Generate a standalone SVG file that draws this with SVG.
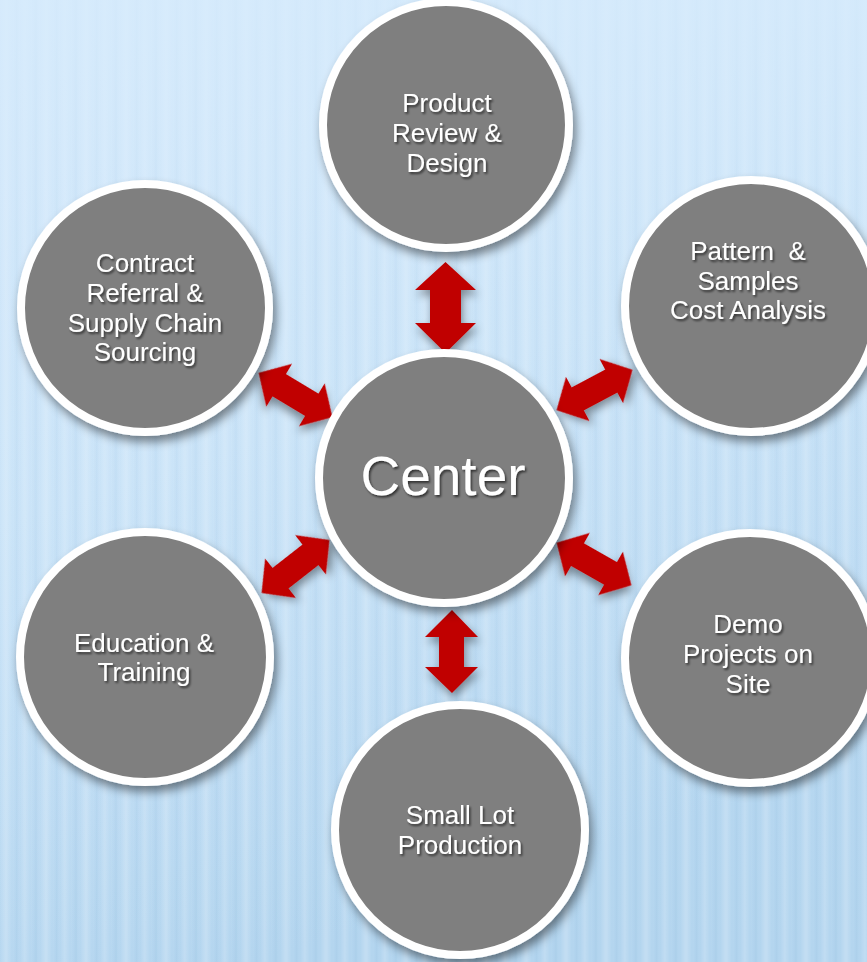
<svg xmlns="http://www.w3.org/2000/svg" width="867" height="962" viewBox="0 0 867 962">
<defs>
<linearGradient id="bg" x1="0" y1="0" x2="0.3" y2="1">
<stop offset="0" stop-color="#d3e8fb"/>
<stop offset="0.5" stop-color="#c8e2f7"/>
<stop offset="1" stop-color="#b3d5ef"/>
</linearGradient>
<linearGradient id="stripeG" x1="0" y1="0" x2="1" y2="0">
<stop offset="0" stop-color="#ffffff" stop-opacity="0"/>
<stop offset="0.15" stop-color="#ffffff" stop-opacity="0.22"/>
<stop offset="0.3" stop-color="#ffffff" stop-opacity="0"/>
<stop offset="0.42" stop-color="#5d93c0" stop-opacity="0.08"/>
<stop offset="0.5" stop-color="#ffffff" stop-opacity="0"/>
<stop offset="0.62" stop-color="#ffffff" stop-opacity="0.18"/>
<stop offset="0.75" stop-color="#ffffff" stop-opacity="0"/>
<stop offset="0.9" stop-color="#5d93c0" stop-opacity="0.1"/>
<stop offset="1" stop-color="#ffffff" stop-opacity="0"/>
</linearGradient>
<pattern id="stripes" x="0" y="0" width="40" height="962" patternUnits="userSpaceOnUse">
<rect x="0" y="0" width="40" height="962" fill="url(#stripeG)"/>
</pattern>
<linearGradient id="fadeTop" x1="0" y1="0" x2="0" y2="1">
<stop offset="0" stop-color="#d6ebfc" stop-opacity="0.8"/>
<stop offset="0.3" stop-color="#d6ebfc" stop-opacity="0.25"/>
<stop offset="1" stop-color="#d6ebfc" stop-opacity="0"/>
</linearGradient>
<filter id="sh" x="-20%" y="-20%" width="150%" height="150%">
<feDropShadow dx="3" dy="6" stdDeviation="5" flood-color="#000" flood-opacity="0.45"/>
</filter>
<filter id="ash" x="-30%" y="-30%" width="170%" height="170%">
<feDropShadow dx="2" dy="5" stdDeviation="4" flood-color="#000" flood-opacity="0.4"/>
</filter>
<filter id="tsh" x="-10%" y="-20%" width="130%" height="150%">
<feDropShadow dx="1.5" dy="2" stdDeviation="1" flood-color="#000" flood-opacity="0.6"/>
</filter>
<path id="darrow" d="M-43 0 L-19 -25 L-19 -13 L19 -13 L19 -25 L43 0 L19 25 L19 13 L-19 13 L-19 25 Z"/>
</defs>
<style>
.node circle { fill: #7f7f7f; stroke: #ffffff; stroke-width: 8; filter: url(#sh); }
.node text { font-family: "Liberation Sans", Arial, sans-serif; font-size: 26px; fill: #ffffff; text-anchor: middle; filter: url(#tsh); }
.arrow { fill: #c00000; filter: url(#ash); }
</style>
<rect width="867" height="962" fill="url(#bg)"/>
<rect width="867" height="962" fill="url(#stripes)"/>
<rect width="867" height="962" fill="url(#fadeTop)"/>

<g id="connectors">
<path class="arrow" d="M445.5 262 L476 290 L461 290 L461 323 L476 323 L445.5 353 L415 323 L430 323 L430 290 L415 290 Z"/>
<path class="arrow" d="M452 610 L478 637 L464 637 L464 667 L478 667 L452 693 L425 667 L439 667 L439 637 L425 637 Z"/>
<use class="arrow" href="#darrow" transform="translate(295.5 395) rotate(31)"/>
<use class="arrow" href="#darrow" transform="translate(594.5 390) rotate(-28)"/>
<use class="arrow" href="#darrow" transform="translate(295.5 566.5) rotate(-38)"/>
<use class="arrow" href="#darrow" transform="translate(594 564) rotate(29.6)"/>
</g>

<g id="node-product" class="node">
<circle cx="446" cy="125" r="123"/>
<text x="447" y="112">Product</text>
<text x="447" y="142">Review &amp;</text>
<text x="447" y="172">Design</text>
</g>

<g id="node-contract" class="node">
<circle cx="145" cy="308" r="124"/>
<text x="145" y="272">Contract</text>
<text x="145" y="302">Referral &amp;</text>
<text x="145" y="332">Supply Chain</text>
<text x="145" y="361">Sourcing</text>
</g>

<g id="node-pattern" class="node">
<circle cx="751" cy="306" r="126"/>
<text x="748" y="260" xml:space="preserve">Pattern  &amp;</text>
<text x="748" y="290">Samples</text>
<text x="748" y="319">Cost Analysis</text>
</g>

<g id="node-center" class="node">
<circle cx="444" cy="478" r="125"/>
<text x="443" y="495" style="font-size:55px">Center</text>
</g>

<g id="node-education" class="node">
<circle cx="145" cy="657" r="125"/>
<text x="144" y="652">Education &amp;</text>
<text x="144" y="681">Training</text>
</g>

<g id="node-demo" class="node">
<circle cx="750" cy="658" r="125"/>
<text x="748" y="633">Demo</text>
<text x="748" y="663">Projects on</text>
<text x="748" y="693">Site</text>
</g>

<g id="node-smalllot" class="node">
<circle cx="460" cy="830" r="125"/>
<text x="460" y="824">Small Lot</text>
<text x="460" y="854">Production</text>
</g>
</svg>
